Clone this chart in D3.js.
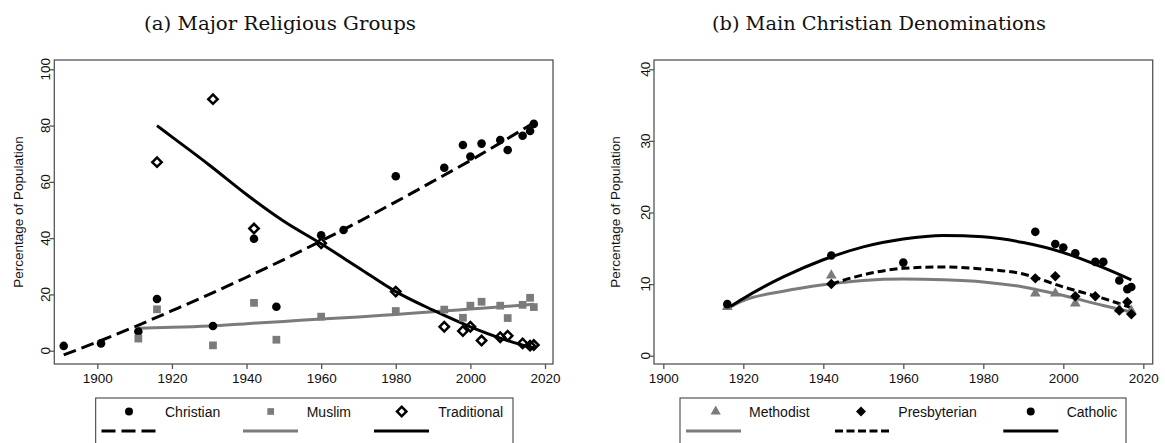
<!DOCTYPE html>
<html><head><meta charset="utf-8">
<script src="https://cdn.jsdelivr.net/npm/d3@7"></script>
<style>body{margin:0;background:#fff}svg{display:block}</style>
</head><body>
<svg id="c" width="1165" height="443"></svg>
<script>
// ---------- DATA ----------
const xTicks = [1900, 1920, 1940, 1960, 1980, 2000, 2020];
const yTicksA = [0, 20, 40, 60, 80, 100];
const yTicksB = [0, 10, 20, 30, 40];

// Panel (a) scatter
const christianYears = [1891,1901,1911,1916,1931,1942,1948,1960,1966,1980,1993,1998,2000,2003,2008,2010,2014,2016,2017];
const christianVals  = [1.7,2.6,6.8,18.4,8.8,39.8,15.6,41,42.9,62,65,73.1,69,73.6,74.9,71.3,76.4,78.1,80.6];
const muslimYears = [1911,1916,1931,1942,1948,1960,1980,1993,1998,2000,2003,2008,2010,2014,2016,2017];
const muslimVals  = [4.3,14.7,1.9,17,3.9,12.1,14.1,14.6,11.7,16,17.4,16,11.6,16.3,18.8,15.5];
const traditionalYears = [1916,1931,1942,1960,1980,1993,1998,2000,2003,2008,2010,2014,2016,2017];
const traditionalVals  = [67,89.4,43.4,38.2,21,8.5,7,8.5,3.6,4.8,5.3,2.6,1.8,2];

// Panel (a) fitted curves
const christianFitYears = [1891,1900,1910,1920,1930,1940,1950,1960,1970,1980,1990,2000,2010,2017];
const christianFitVals  = [-1.5,3.1,8.5,14.2,20.0,26.1,32.4,39.0,45.8,52.9,60.2,67.6,75.4,81.0];
const muslimFitYears = [1911,1920,1930,1940,1950,1960,1970,1980,1990,2000,2010,2017];
const muslimFitVals  = [8.0,8.3,8.8,9.6,10.4,11.3,12.0,12.9,13.8,14.8,15.8,16.5];
const traditionalFitYears = [1916,1920,1930,1940,1950,1960,1970,1980,1990,2000,2010,2017];
const traditionalFitVals  = [80,76,66,55.5,46,38,29.5,21,14.4,8.5,3.6,0.9];

// Panel (b) scatter
const methodistYears = [1916,1942,1993,1998,2003,2014,2017];
const methodistVals  = [6.8,11.2,8.7,8.7,7.3,6.5,6.3];
const presbyterianYears = [1942,1993,1998,2003,2008,2014,2016,2017];
const presbyterianVals  = [10.0,10.8,11.1,8.3,8.3,6.3,7.5,5.8];
const catholicYears = [1916,1942,1960,1993,1998,2000,2003,2008,2010,2014,2016,2017];
const catholicVals  = [7.2,14.0,13.0,17.3,15.6,15.1,14.3,13.1,13.1,10.5,9.3,9.6];

// Panel (b) fitted curves
const methodistFitYears = [1916,1920,1930,1940,1950,1960,1970,1980,1990,2000,2010,2017];
const methodistFitVals  = [6.6,7.7,9.0,9.9,10.5,10.7,10.6,10.3,9.6,8.4,7.0,6.1];
const presbyterianFitYears = [1942,1950,1960,1970,1980,1990,2000,2010,2017];
const presbyterianFitVals  = [10.0,11.3,12.2,12.4,12.1,11.4,9.6,8.0,6.7];
const catholicFitYears = [1916,1920,1930,1940,1950,1960,1970,1980,1990,2000,2010,2017];
const catholicFitVals  = [6.6,8.0,11.0,13.4,15.2,16.3,16.8,16.6,15.8,14.4,12.3,10.6];

const titles = ["(a)  Major Religious Groups", "(b)  Main Christian Denominations"];
const yTitle = "Percentage of Population";
const legendA = ["Christian", "Muslim", "Traditional"];
const legendB = ["Methodist", "Presbyterian", "Catholic"];

// ---------- DRAW ----------
const svg = d3.select("#c");
const GRAY = "#7b7b7b";
const sans = "'Liberation Sans', Arial, sans-serif";
const zip = (a, b) => a.map((v, i) => [v, b[i]]);

function panel(cfg) {
  const g = svg.append("g");
  const x = d3.scaleLinear().domain([1900, 2020]).range(cfg.xr);
  const y = d3.scaleLinear().domain(cfg.yd).range(cfg.yr);
  const [bx0, bx1] = cfg.bx, [by0, by1] = cfg.by;
  // frame
  g.append("rect").attr("x", bx0).attr("y", by0).attr("width", bx1 - bx0).attr("height", by1 - by0)
    .attr("fill", "none").attr("stroke", "#555").attr("stroke-width", 1.3);
  // x axis
  const xa = g.append("g").attr("transform", `translate(0,${by1})`)
    .call(d3.axisBottom(x).tickValues(xTicks).tickFormat(d3.format("d")).tickSize(5).tickPadding(4));
  xa.select(".domain").remove();
  xa.selectAll("line").attr("stroke", "#555").attr("stroke-width", 1.3);
  xa.selectAll("text").attr("font-family", sans).attr("font-size", 13.5).attr("fill", "#111").attr("dy", "0.71em");
  // y axis
  const ya = g.append("g").attr("transform", `translate(${bx0},0)`)
    .call(d3.axisLeft(y).tickValues(cfg.yt).tickSize(5));
  ya.select(".domain").remove();
  ya.selectAll("line").attr("stroke", "#555").attr("stroke-width", 1.3);
  ya.selectAll("text").remove();
  g.selectAll(".ylab").data(cfg.yt).join("text")
    .attr("transform", d => `translate(${bx0 - 4},${y(d)}) rotate(-90)`)
    .attr("text-anchor", "middle").attr("font-family", sans).attr("font-size", 13.5).attr("fill", "#111")
    .text(d => d);
  // y title
  g.append("text").attr("transform", `translate(${cfg.ytx},${(by0 + by1) / 2}) rotate(-90)`)
    .attr("text-anchor", "middle").attr("font-family", sans).attr("font-size", 13.5).attr("fill", "#111").text(yTitle);
  // title
  g.append("text").attr("x", cfg.tx).attr("y", 30).attr("text-anchor", "middle")
    .attr("font-family", "'DejaVu Serif', 'Liberation Serif', serif").attr("font-size", 19)
    .attr("textLength", cfg.tl).attr("lengthAdjust", "spacingAndGlyphs").attr("fill", "#111").text(cfg.title);

  const line = d3.line().x(d => x(d[0])).y(d => y(d[1])).curve(d3.curveMonotoneX);
  cfg.fits.forEach(f => {
    g.append("path").attr("d", line(zip(f.years, f.vals))).attr("fill", "none")
      .attr("stroke", f.color).attr("stroke-width", 3).attr("stroke-dasharray", f.dash || null);
  });
  cfg.series.forEach(s => {
    g.selectAll(null).data(zip(s.years, s.vals)).join("path")
      .attr("transform", d => `translate(${x(d[0])},${y(d[1])})${s.rot ? " rotate(45)" : ""}`)
      .attr("d", d3.symbol().type(s.type).size(s.size)())
      .attr("fill", s.fill).attr("stroke", s.stroke || "none").attr("stroke-width", s.sw || 0);
  });

  // legend
  const L = cfg.legend;
  g.append("rect").attr("x", L.x0).attr("y", 398).attr("width", L.x1 - L.x0).attr("height", 60)
    .attr("fill", "#fff").attr("stroke", "#333").attr("stroke-width", 1);
  cfg.series.forEach((s, i) => {
    g.append("path").attr("transform", `translate(${L.mx[i]},411.5)${s.rot ? " rotate(45)" : ""}`)
      .attr("d", d3.symbol().type(s.type).size(s.lsize || s.size)())
      .attr("fill", s.fill).attr("stroke", s.stroke || "none").attr("stroke-width", s.sw || 0);
    g.append("text").attr("x", L.tx[i]).attr("y", 416.5).attr("font-family", sans).attr("font-size", 14)
      .attr("fill", "#111").text(L.labels[i]);
    const f = cfg.fits[i];
    g.append("line").attr("x1", L.lx[i]).attr("x2", L.lx[i] + 55).attr("y1", 431).attr("y2", 431)
      .attr("stroke", f.color).attr("stroke-width", 3).attr("stroke-dasharray", f.ldash || null);
  });
}

panel({
  xr: [97.3, 545], yd: [0, 100], yr: [350.7, 69.3], bx: [54.3, 553], by: [60, 364], yt: yTicksA,
  ytx: 23, tx: 280, tl: 272, title: titles[0],
  fits: [
    {years: christianFitYears, vals: christianFitVals, color: "#000", dash: "13,6", ldash: "14,6"},
    {years: muslimFitYears, vals: muslimFitVals, color: GRAY},
    {years: traditionalFitYears, vals: traditionalFitVals, color: "#000"}
  ],
  series: [
    {years: christianYears, vals: christianVals, type: d3.symbolCircle, size: 58, fill: "#000", lsize: 50},
    {years: muslimYears, vals: muslimVals, type: d3.symbolSquare, size: 60, fill: GRAY, lsize: 45},
    {years: traditionalYears, vals: traditionalVals, type: d3.symbolSquare, size: 44, fill: "none", stroke: "#000", sw: 2.5, rot: true}
  ],
  legend: {x0: 95.7, x1: 513, mx: [129, 270.7, 401.7], tx: [165, 306.7, 438.3], lx: [101.5, 243, 374], labels: legendA}
});

panel({
  xr: [663.3, 1143.3], yd: [0, 40], yr: [355.7, 69.3], bx: [654, 1152.7], by: [60, 364], yt: yTicksB,
  ytx: 620, tx: 879, tl: 334, title: titles[1],
  fits: [
    {years: methodistFitYears, vals: methodistFitVals, color: GRAY},
    {years: presbyterianFitYears, vals: presbyterianFitVals, color: "#000", dash: "8,4", ldash: "8,3.5"},
    {years: catholicFitYears, vals: catholicFitVals, color: "#000"}
  ],
  series: [
    {years: methodistYears, vals: methodistVals, type: d3.symbolTriangle, size: 50, fill: GRAY, lsize: 45},
    {years: presbyterianYears, vals: presbyterianVals, type: d3.symbolSquare, size: 55, fill: "#000", rot: true, lsize: 50},
    {years: catholicYears, vals: catholicVals, type: d3.symbolCircle, size: 58, fill: "#000", lsize: 50}
  ],
  legend: {x0: 680, x1: 1126, mx: [715.7, 861, 1030.7], tx: [749, 898.3, 1066.7], lx: [686, 835, 1003.3], labels: legendB}
});
</script>
</body></html>
